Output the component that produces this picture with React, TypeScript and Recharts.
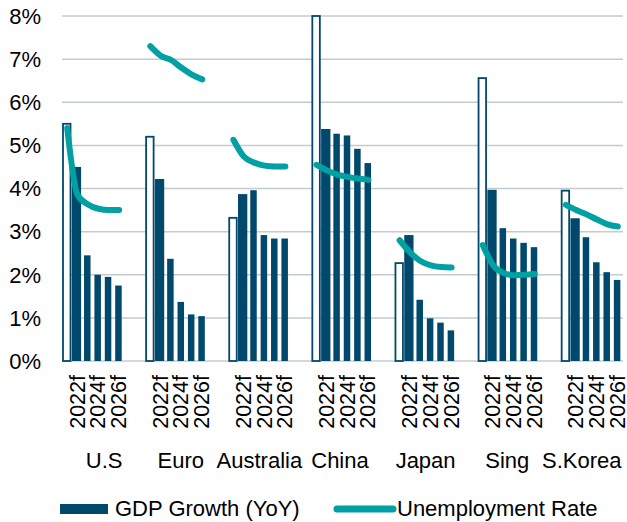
import { ComposedChart, Bar, Line, XAxis, YAxis, CartesianGrid, Legend } from 'recharts';

// categories
const countries = ['U.S', 'Euro', 'Australia', 'China', 'Japan', 'Sing', 'S.Korea'];
const years = ['2021', '2022f', '2023f', '2024f', '2025f', '2026f'];
const shownYears = ['2022f', '2024f', '2026f'];

// GDP growth (YoY), % — first year is the hollow bar
const gdpUS = [5.5, 4.5, 2.45, 2.0, 1.95, 1.75];
const gdpEuro = [5.2, 4.22, 2.37, 1.37, 1.08, 1.04];
const gdpAustralia = [3.32, 3.87, 3.96, 2.92, 2.84, 2.84];
const gdpChina = [8.0, 5.38, 5.27, 5.23, 4.92, 4.59];
const gdpJapan = [2.27, 2.92, 1.42, 0.99, 0.89, 0.71];
const gdpSing = [6.56, 3.97, 3.08, 2.84, 2.74, 2.64];
const gdpKorea = [3.95, 3.31, 2.87, 2.29, 2.06, 1.88];

// Unemployment rate, %
const unempUS = [5.4, 3.85, 3.63, 3.53, 3.5, 3.5];
const unempEuro = [7.3, 7.08, 6.98, 6.8, 6.64, 6.53];
const unempAustralia = [5.13, 4.74, 4.6, 4.53, 4.51, 4.51];
const unempChina = [4.55, 4.42, 4.32, 4.27, 4.23, 4.2];
const unempJapan = [2.8, 2.52, 2.32, 2.22, 2.18, 2.17];
const unempSing = [2.69, 2.22, 2.04, 1.99, 2.0, 2.02];
const unempKorea = [3.62, 3.5, 3.4, 3.28, 3.17, 3.12];

const yTicks = [0, 1, 2, 3, 4, 5, 6, 7, 8];

const gdpByCountry = [gdpUS, gdpEuro, gdpAustralia, gdpChina, gdpJapan, gdpSing, gdpKorea];
const unempByCountry = [unempUS, unempEuro, unempAustralia, unempChina, unempJapan, unempSing, unempKorea];

const NAVY = '#00496C';
const TEAL = '#00A0A3';
const FONT = '"Liberation Sans", Arial, sans-serif';

// nudges for the group labels (style only)
const labelShift = [11, 4.5, 0, -2.5, 0, -1.5, -10];
const HALF_SLOT = 5.2;

type Row = { key: string; ci: number; yi: number; gdp: number | null; unemp: number | null };

// one slot per year, two empty slots between countries
const rows: Row[] = [];
countries.forEach((c, ci) => {
  years.forEach((y, yi) => {
    rows.push({ key: `${ci}-${yi}`, ci, yi, gdp: gdpByCountry[ci][yi], unemp: unempByCountry[ci][yi] });
  });
  if (ci < countries.length - 1) {
    rows.push({ key: `${ci}-g0`, ci, yi: -1, gdp: null, unemp: null });
    rows.push({ key: `${ci}-g1`, ci, yi: -1, gdp: null, unemp: null });
  }
});
const rowByKey: Record<string, Row> = {};
rows.forEach((r) => (rowByKey[r.key] = r));

const GdpShape = (props: any) => {
  const { x, y, width, height, payload } = props;
  if (payload.gdp == null || height == null) return <g />;
  if (payload.yi === 0) {
    return <rect x={x + 1} y={y} width={width - 2.5} height={height} fill="#fff" stroke={NAVY} strokeWidth={1.8} />;
  }
  if (payload.yi === 1) {
    return <rect x={x - 0.6} y={y} width={9.3} height={height} fill={NAVY} />;
  }
  const w = 6.5;
  return <rect x={x + (width - w) / 2 - 0.5} y={y} width={w} height={height} fill={NAVY} />;
};

const SlotTick = (props: any) => {
  const { x, y, payload } = props;
  const row = rowByKey[payload.value];
  if (!row || row.yi < 0) return <g />;
  const year = years[row.yi];
  return (
    <g>
      {shownYears.includes(year) && (
        <text
          x={x}
          y={y}
          transform={`rotate(-90, ${x}, ${y})`}
          textAnchor="end"
          dominantBaseline="central"
          fontSize={21.5}
          fontFamily={FONT}
          fill="#000"
        >
          {year}
        </text>
      )}
      {row.yi === 2 && (
        <text
          x={x + HALF_SLOT + labelShift[row.ci]}
          y={y + 93}
          textAnchor="middle"
          fontSize={22}
          fontFamily={FONT}
          fill="#000"
        >
          {countries[row.ci]}
        </text>
      )}
    </g>
  );
};

const renderLegend = () => (
  <div style={{ position: 'relative', height: 40, fontSize: 22, fontFamily: FONT, color: '#000' }}>
    <span style={{ position: 'absolute', left: 60, top: 22, width: 48, height: 10, background: NAVY }} />
    <span style={{ position: 'absolute', left: 115, top: 14, lineHeight: '26px', whiteSpace: 'nowrap' }}>
      GDP Growth (YoY)
    </span>
    <svg width={64} height={12} style={{ position: 'absolute', left: 333, top: 21 }}>
      <line x1={4} y1={6} x2={60} y2={6} stroke={TEAL} strokeWidth={7} strokeLinecap="round" />
    </svg>
    <span style={{ position: 'absolute', left: 397, top: 14, lineHeight: '26px', whiteSpace: 'nowrap' }}>
      Unemployment Rate
    </span>
  </div>
);

export default function App() {
  return (
    <div style={{ position: 'absolute', left: 0, top: 0, fontFamily: FONT }}>
      <ComposedChart width={627} height={522} data={rows} margin={{ top: 16, right: 4, bottom: 0, left: 0 }} barCategoryGap={0}>
        <CartesianGrid vertical={false} stroke="#C2CCCE" strokeWidth={1.5} />
        <XAxis
          dataKey="key"
          interval={0}
          height={121}
          tickLine={false}
          axisLine={false}
          tickSize={0}
          tickMargin={14}
          tick={<SlotTick />}
        />
        <YAxis
          width={62}
          domain={[0, 8]}
          ticks={yTicks}
          tickFormatter={(v: number) => `${v}%`}
          tickLine={false}
          axisLine={false}
          tickSize={6}
          tickMargin={15}
          tick={{ fontSize: 22, fill: '#000', fontFamily: FONT }}
        />
        <Legend verticalAlign="bottom" height={40} content={renderLegend} />
        <Bar dataKey="gdp" name="GDP Growth (YoY)" shape={<GdpShape />} isAnimationActive={false} />
        <Line
          dataKey="unemp"
          name="Unemployment Rate"
          type="monotone"
          stroke={TEAL}
          strokeWidth={6}
          strokeLinecap="round"
          strokeLinejoin="round"
          dot={false}
          activeDot={false}
          connectNulls={false}
          isAnimationActive={false}
        />
      </ComposedChart>
    </div>
  );
}
